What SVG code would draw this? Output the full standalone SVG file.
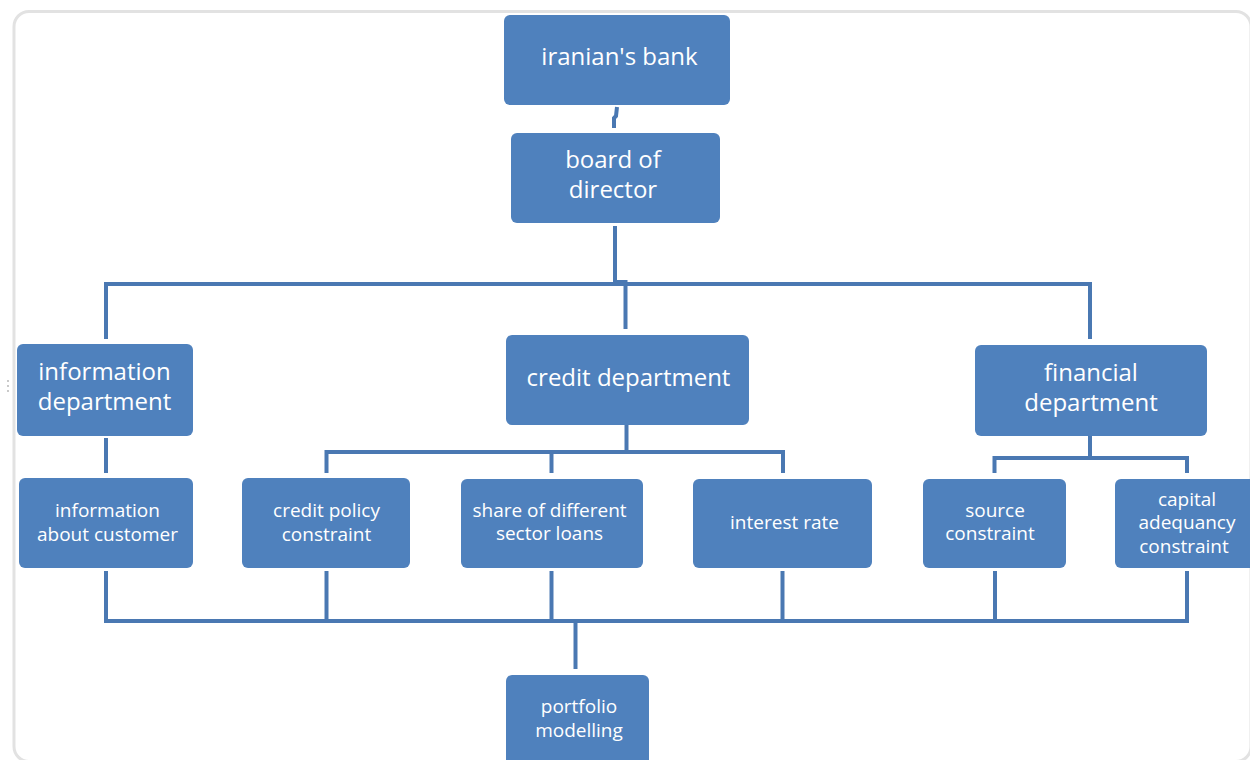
<svg xmlns="http://www.w3.org/2000/svg" width="1250" height="760" viewBox="0 0 1250 760">
<style>
.box{fill:#4f81bd;}
.lbl{font-family:"Open Sans","Liberation Sans",sans-serif;fill:#ffffff;text-anchor:middle;}
.big{font-size:24px;}
.sm{font-size:19px;}
.ln{fill:none;stroke:#4a78b2;stroke-width:4;stroke-linejoin:miter;stroke-linecap:butt;}
</style>
<rect width="1250" height="760" fill="#ffffff"/>
<rect x="14" y="11.5" width="1237" height="750" rx="15" fill="none" stroke="#e2e2e2" stroke-width="3"/>
<g fill="#b0b0b0"><circle cx="8" cy="381" r="0.9"/><circle cx="8" cy="386" r="0.9"/><circle cx="8" cy="391" r="0.9"/></g>

<g id="connectors">
<path class="ln" d="M617,107 L616,116 L614,118 L614,128"/>
<path class="ln" d="M615,226 L615,282"/>
<path class="ln" d="M615,282 L625.5,282 L625.5,329"/>
<path class="ln" d="M106,339 L106,284 L1090,284 L1090,339"/>
<path class="ln" d="M626.5,425 L626.5,452"/>
<path class="ln" d="M326.5,473 L326.5,452 L783,452 L783,473"/>
<path class="ln" d="M551.5,452 L551.5,473"/>
<path class="ln" d="M106,438 L106,473"/>
<path class="ln" d="M1090,436 L1090,458"/>
<path class="ln" d="M994.5,473 L994.5,458 L1187,458 L1187,473"/>
<path class="ln" d="M106,571 L106,621 L1187,621 L1187,571"/>
<path class="ln" d="M326.5,571 L326.5,621"/>
<path class="ln" d="M551.5,571 L551.5,621"/>
<path class="ln" d="M782.5,571 L782.5,621"/>
<path class="ln" d="M995,571 L995,621"/>
<path class="ln" d="M575.5,621 L575.5,669" stroke-width="7"/>
</g>

<g id="iranians-bank"><rect class="box" x="504" y="15" width="226" height="90" rx="6"/>
<text class="lbl big" x="619.5" y="65">iranian's bank</text></g>

<g id="board-of-director"><rect class="box" x="511" y="133" width="209" height="90" rx="6"/>
<text class="lbl big" x="613" y="168">board of</text>
<text class="lbl big" x="613" y="198">director</text></g>

<g id="information-department"><rect class="box" x="17" y="344" width="176" height="92" rx="6"/>
<text class="lbl big" x="104.5" y="380">information</text>
<text class="lbl big" x="104.5" y="410">department</text></g>

<g id="credit-department"><rect class="box" x="506" y="335" width="243" height="90" rx="6"/>
<text class="lbl big" x="628.5" y="386">credit department</text></g>

<g id="financial-department"><rect class="box" x="975" y="345" width="232" height="91" rx="6"/>
<text class="lbl big" x="1091" y="381">financial</text>
<text class="lbl big" x="1091" y="411">department</text></g>

<g id="information-about-customer"><rect class="box" x="19" y="478" width="174" height="90" rx="6"/>
<text class="lbl sm" x="107.5" y="517">information</text>
<text class="lbl sm" x="107.5" y="540.5">about customer</text></g>

<g id="credit-policy-constraint"><rect class="box" x="242" y="478" width="168" height="90" rx="6"/>
<text class="lbl sm" x="326.5" y="517">credit policy</text>
<text class="lbl sm" x="326.5" y="540.5">constraint</text></g>

<g id="share-of-different-sector-loans"><rect class="box" x="461" y="479" width="182" height="89" rx="6"/>
<text class="lbl sm" x="549.5" y="516.5">share of different</text>
<text class="lbl sm" x="549.5" y="540">sector loans</text></g>

<g id="interest-rate"><rect class="box" x="693" y="479" width="179" height="89" rx="6"/>
<text class="lbl sm" x="784.5" y="529">interest rate</text></g>

<g id="source-constraint"><rect class="box" x="923" y="479" width="143" height="89" rx="6"/>
<text class="lbl sm" x="995" y="516.5">source</text>
<text class="lbl sm" x="990" y="540">constraint</text></g>

<g id="capital-adequancy-constraint"><rect class="box" x="1115" y="479" width="145" height="89" rx="6"/>
<text class="lbl sm" x="1187" y="505.5">capital</text>
<text class="lbl sm" x="1187" y="529">adequancy</text>
<text class="lbl sm" x="1184" y="552.5">constraint</text></g>

<g id="portfolio-modelling"><rect class="box" x="506" y="675" width="143" height="100" rx="6"/>
<text class="lbl sm" x="579" y="713">portfolio</text>
<text class="lbl sm" x="579" y="736.5">modelling</text></g>
</svg>
